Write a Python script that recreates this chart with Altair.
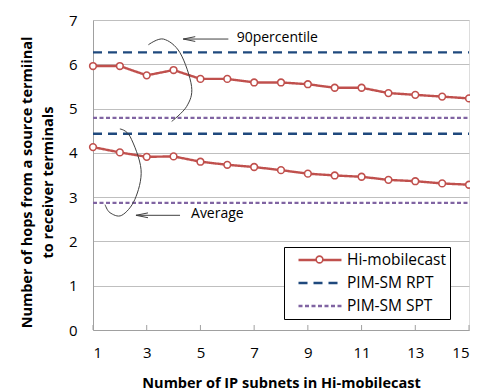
import altair as alt
import pandas as pd

# ---- data ----
subnets = list(range(1, 16))
hi_p90 = [5.96, 5.96, 5.75, 5.87, 5.67, 5.67, 5.59, 5.59, 5.55, 5.47, 5.47, 5.35, 5.31, 5.27, 5.23]
hi_avg = [4.13, 4.01, 3.91, 3.92, 3.80, 3.73, 3.68, 3.61, 3.53, 3.49, 3.46, 3.39, 3.36, 3.31, 3.28]
rpt_p90 = 6.27
rpt_avg = 4.43
spt_p90 = 4.79
spt_avg = 2.87
series_names = ["Hi-mobilecast", "PIM-SM RPT", "PIM-SM SPT"]
series_colors = ["#c0504d", "#1f497d", "#8064a2"]
x_ticks = [1, 3, 5, 7, 9, 11, 13, 15]

# annotation shapes (data units)
arc1_x = [3.06, 3.62, 4.24, 4.67, 4.49, 3.93]
arc1_y = [6.44, 6.57, 6.26, 5.50, 5.05, 4.71]
arc2_x = [2.00, 2.38, 2.79, 2.56, 2.07, 1.63, 1.45]
arc2_y = [4.54, 4.37, 3.62, 2.95, 2.59, 2.65, 2.83]
arrow_tip = [4.36, 2.60]
arrow_end = [6.04, 4.24]
arrow_y = [6.57, 2.59]
label_text = ["90percentile", "Average"]
label_x = [6.35, 4.65]
label_y = [6.59, 2.61]

# ---- tables ----
rows = []
for x, v in zip(subnets, hi_p90):
    rows.append({"x": x, "y": v, "series": "Hi-mobilecast", "stat": "p90"})
for x, v in zip(subnets, hi_avg):
    rows.append({"x": x, "y": v, "series": "Hi-mobilecast", "stat": "avg"})
for x in [subnets[0], subnets[-1]]:
    rows.append({"x": x, "y": rpt_p90, "series": "PIM-SM RPT", "stat": "p90"})
    rows.append({"x": x, "y": rpt_avg, "series": "PIM-SM RPT", "stat": "avg"})
    rows.append({"x": x, "y": spt_p90, "series": "PIM-SM SPT", "stat": "p90"})
    rows.append({"x": x, "y": spt_avg, "series": "PIM-SM SPT", "stat": "avg"})
df = pd.DataFrame(rows)
df_hi = df[df.series == "Hi-mobilecast"]

arcs = pd.DataFrame(
    [{"x": a, "y": b, "arc": "a1", "i": i} for i, (a, b) in enumerate(zip(arc1_x, arc1_y))]
    + [{"x": a, "y": b, "arc": "a2", "i": i} for i, (a, b) in enumerate(zip(arc2_x, arc2_y))]
)
arrows = pd.DataFrame({"x": arrow_tip, "x2": arrow_end, "y": arrow_y})
labels = pd.DataFrame({"x": label_x, "y": label_y, "t": label_text})
ticks = pd.DataFrame({"x": x_ticks})

FONT = "Open Sans"

xscale = alt.Scale(domain=[1, 15], nice=False, zero=False)
yscale = alt.Scale(domain=[0, 7], nice=False)

xenc = alt.X(
    "x:Q",
    scale=xscale,
    axis=alt.Axis(
        values=x_ticks, grid=False, ticks=False, labelFontSize=15, labelPadding=15,
        title="Number of IP subnets in Hi-mobilecast", titleFontSize=14.5,
        titleFontWeight="bold", titlePadding=16, domainColor="#a0a0a0",
        labelColor="#000000", titleColor="#000000", labelFont=FONT, titleFont=FONT,
    ),
)
yenc = alt.Y(
    "y:Q",
    scale=yscale,
    axis=alt.Axis(
        values=[0, 1, 2, 3, 4, 5, 6, 7], ticks=False, labelFontSize=15, labelPadding=16,
        title=["Number of hops from  a source termiinal", "to receiver terminals"],
        titleFontSize=14.5, titleFontWeight="bold", titlePadding=13, titleY=162,
        gridColor="#bfbfbf", domainColor="#a0a0a0", labelColor="#000000",
        titleColor="#000000", labelFont=FONT, titleFont=FONT, titleLineHeight=21,
    ),
)

legend_cfg = dict(
    title=None, orient="none", legendX=191, legendY=227,
    symbolType="M0.2,0H5.93", symbolSize=225, symbolStrokeWidth=2.4,
    labelFontSize=15.5, labelFont=FONT, labelColor="#000000",
    strokeColor="#000000", fillColor="#ffffff", padding=4,
    rowPadding=5, labelOffset=41, zindex=1,
    labelExpr="datum.label + '\u00a0\u00a0'",
)

lines = alt.Chart(df).mark_line(strokeWidth=2.4).encode(
    x=xenc,
    y=yenc,
    color=alt.Color(
        "series:N",
        scale=alt.Scale(domain=series_names, range=series_colors),
        legend=alt.Legend(**legend_cfg),
    ),
    strokeDash=alt.StrokeDash(
        "series:N",
        scale=alt.Scale(domain=series_names, range=[[1, 0], [9, 6], [4, 2.5]]),
        legend=alt.Legend(**legend_cfg),
    ),
    detail="stat:N",
)

points = alt.Chart(df_hi).mark_point(
    filled=False, fill="#ffffff", fillOpacity=1, strokeWidth=1.6,
    size=45, opacity=1, shape="circle"
).encode(
    x="x:Q",
    y="y:Q",
    detail="stat:N",
    stroke=alt.Stroke(
        "series:N",
        scale=alt.Scale(domain=["Hi-mobilecast"], range=["#c0504d"]),
        legend=alt.Legend(
            title=None, orient="none", legendX=222, legendY=235, padding=0,
            symbolType="circle", symbolSize=45, symbolFillColor="#ffffff",
            symbolStrokeWidth=1.6, symbolOpacity=1, labelFontSize=1, labelOpacity=0,
            labelOffset=0, zindex=2,
        ),
    ),
)

inner_ticks = alt.Chart(ticks).mark_rule(color="#a0a0a0", strokeWidth=1).encode(
    x="x:Q", y=alt.value(310), y2=alt.value(305)
)

arc_lines = alt.Chart(arcs).mark_line(
    color="#404040", strokeWidth=1, interpolate="cardinal"
).encode(x="x:Q", y="y:Q", detail="arc:N", order="i:Q")

arrow_lines = alt.Chart(arrows).mark_rule(color="#404040", strokeWidth=1).encode(
    x="x:Q", x2="x2:Q", y="y:Q"
)
arrow_heads = alt.Chart(arrows).mark_point(
    shape="M1,-0.4L-1,0L1,0.4", size=144, filled=False, color="#404040",
    strokeWidth=1, xOffset=6, opacity=1
).encode(x="x:Q", y="y:Q")

texts = alt.Chart(labels).mark_text(
    align="left", baseline="middle", fontSize=14, font=FONT, color="#000000"
).encode(x="x:Q", y="y:Q", text="t:N")

chart = alt.layer(
    inner_ticks, lines, points, arc_lines, arrow_lines, arrow_heads, texts
).properties(
    width=376, height=310,
    autosize=alt.AutoSizeParams(type="none"),
    padding={"left": 85, "top": 12, "right": 1, "bottom": 60},
).configure_view(stroke="#999999", strokeWidth=1.3).configure(background="#ffffff")

chart.save("out.html", embed_options={"renderer": "svg", "actions": False})
